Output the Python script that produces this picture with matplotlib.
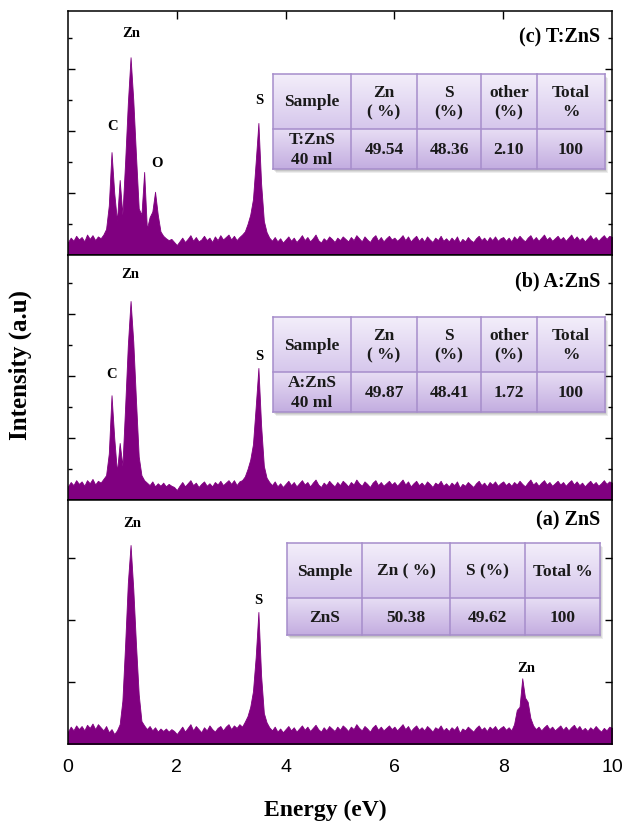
import numpy as np
import matplotlib
matplotlib.use('Agg')
import matplotlib.pyplot as plt
from matplotlib.patches import Rectangle

# ---------------- data ----------------
energy = np.round(np.arange(0, 10.0001, 0.05), 2)   # eV grid, 0.05 step

int_a = [  # (a) ZnS
    0.20, 0.28, 0.22, 0.30, 0.24, 0.29, 0.22, 0.31, 0.26, 0.33, 0.24, 0.32, 0.27, 0.22, 0.29, 0.19, 0.24, 0.16, 0.22, 0.32,
    0.70, 1.60, 2.60, 3.21, 2.50, 1.60, 0.80, 0.37, 0.30, 0.24, 0.29, 0.22, 0.27, 0.20, 0.25, 0.21, 0.25, 0.20, 0.24, 0.21,
    0.16, 0.22, 0.28, 0.20, 0.26, 0.32, 0.22, 0.29, 0.24, 0.19, 0.27, 0.22, 0.30, 0.24, 0.20, 0.26, 0.29, 0.22, 0.28, 0.32,
    0.24, 0.30, 0.26, 0.32, 0.28, 0.36, 0.45, 0.60, 0.85, 1.40, 2.13, 1.10, 0.50, 0.35, 0.27, 0.22, 0.28, 0.20, 0.25, 0.19,
    0.24, 0.29, 0.22, 0.27, 0.20, 0.25, 0.30, 0.23, 0.28, 0.21, 0.26, 0.31, 0.24, 0.20, 0.27, 0.22, 0.29, 0.25, 0.21, 0.28,
    0.23, 0.30, 0.26, 0.21, 0.28, 0.24, 0.32, 0.26, 0.22, 0.29, 0.25, 0.20, 0.27, 0.31, 0.23, 0.28, 0.22, 0.26, 0.30, 0.24,
    0.28, 0.22, 0.27, 0.32, 0.24, 0.29, 0.21, 0.26, 0.30, 0.23, 0.27, 0.22, 0.29, 0.25, 0.20, 0.27, 0.24, 0.30, 0.22, 0.26,
    0.21, 0.27, 0.23, 0.29, 0.18, 0.25, 0.22, 0.28, 0.24, 0.20, 0.26, 0.30, 0.23, 0.27, 0.21, 0.28, 0.24, 0.29, 0.22, 0.26,
    0.29, 0.23, 0.27, 0.22, 0.32, 0.55, 0.60, 1.06, 0.75, 0.68, 0.42, 0.30, 0.24, 0.28, 0.22, 0.27, 0.31, 0.24, 0.28, 0.22,
    0.26, 0.30, 0.23, 0.28, 0.22, 0.27, 0.31, 0.24, 0.29, 0.22, 0.26, 0.21, 0.27, 0.23, 0.29, 0.24, 0.20, 0.26, 0.22, 0.28,
    0.26,
]

int_b = [  # (b) A:ZnS
    0.22, 0.29, 0.24, 0.32, 0.26, 0.30, 0.23, 0.32, 0.27, 0.34, 0.25, 0.31, 0.28, 0.34, 0.40, 0.75, 1.69, 1.00, 0.45, 0.92,
    0.55, 1.50, 2.50, 3.21, 2.55, 1.60, 0.70, 0.40, 0.32, 0.28, 0.24, 0.30, 0.22, 0.27, 0.23, 0.28, 0.22, 0.26, 0.23, 0.21,
    0.16, 0.23, 0.29, 0.22, 0.27, 0.32, 0.24, 0.28, 0.21, 0.26, 0.30, 0.23, 0.27, 0.22, 0.29, 0.25, 0.31, 0.24, 0.28, 0.32,
    0.26, 0.32, 0.24, 0.30, 0.32, 0.38, 0.50, 0.65, 0.90, 1.50, 2.13, 1.20, 0.55, 0.36, 0.29, 0.24, 0.30, 0.22, 0.27, 0.21,
    0.26, 0.31, 0.24, 0.29, 0.22, 0.27, 0.32, 0.25, 0.29, 0.22, 0.28, 0.33, 0.25, 0.21, 0.28, 0.24, 0.31, 0.26, 0.22, 0.29,
    0.24, 0.31, 0.27, 0.22, 0.29, 0.25, 0.33, 0.27, 0.23, 0.30, 0.26, 0.21, 0.28, 0.32, 0.24, 0.29, 0.23, 0.27, 0.31, 0.25,
    0.29, 0.23, 0.28, 0.33, 0.25, 0.30, 0.22, 0.27, 0.31, 0.24, 0.28, 0.23, 0.30, 0.26, 0.21, 0.28, 0.25, 0.31, 0.23, 0.27,
    0.22, 0.28, 0.24, 0.30, 0.20, 0.26, 0.23, 0.29, 0.25, 0.21, 0.27, 0.31, 0.24, 0.28, 0.22, 0.29, 0.25, 0.30, 0.23, 0.27,
    0.30, 0.24, 0.28, 0.23, 0.29, 0.25, 0.31, 0.26, 0.22, 0.28, 0.33, 0.25, 0.29, 0.23, 0.28, 0.32, 0.25, 0.29, 0.23, 0.27,
    0.31, 0.25, 0.29, 0.23, 0.28, 0.32, 0.25, 0.30, 0.24, 0.28, 0.22, 0.27, 0.31, 0.25, 0.29, 0.23, 0.27, 0.32, 0.26, 0.30,
    0.28,
]

int_c = [  # (c) T:ZnS
    0.21, 0.28, 0.23, 0.31, 0.25, 0.29, 0.22, 0.33, 0.26, 0.32, 0.24, 0.30, 0.27, 0.33, 0.42, 0.80, 1.66, 1.00, 0.55, 1.21,
    0.65, 1.50, 2.45, 3.19, 2.50, 1.60, 0.75, 0.65, 1.34, 0.42, 0.61, 0.70, 1.02, 0.65, 0.38, 0.31, 0.27, 0.24, 0.26, 0.21,
    0.16, 0.22, 0.28, 0.21, 0.26, 0.32, 0.23, 0.29, 0.22, 0.25, 0.31, 0.24, 0.28, 0.21, 0.30, 0.24, 0.32, 0.25, 0.29, 0.33,
    0.25, 0.31, 0.24, 0.29, 0.33, 0.38, 0.50, 0.65, 0.90, 1.50, 2.13, 1.15, 0.55, 0.37, 0.28, 0.23, 0.29, 0.22, 0.27, 0.20,
    0.25, 0.30, 0.23, 0.28, 0.21, 0.26, 0.32, 0.24, 0.29, 0.22, 0.27, 0.33, 0.24, 0.20, 0.27, 0.23, 0.30, 0.26, 0.21, 0.28,
    0.24, 0.30, 0.26, 0.22, 0.29, 0.24, 0.32, 0.27, 0.22, 0.30, 0.25, 0.21, 0.28, 0.32, 0.23, 0.29, 0.22, 0.27, 0.31, 0.25,
    0.28, 0.23, 0.27, 0.32, 0.24, 0.30, 0.22, 0.27, 0.31, 0.23, 0.28, 0.22, 0.30, 0.25, 0.21, 0.28, 0.24, 0.31, 0.23, 0.27,
    0.22, 0.28, 0.23, 0.30, 0.20, 0.26, 0.22, 0.29, 0.24, 0.21, 0.27, 0.31, 0.24, 0.28, 0.22, 0.29, 0.24, 0.30, 0.23, 0.27,
    0.29, 0.23, 0.28, 0.22, 0.30, 0.25, 0.31, 0.26, 0.22, 0.28, 0.32, 0.24, 0.29, 0.23, 0.28, 0.33, 0.25, 0.29, 0.23, 0.27,
    0.31, 0.25, 0.29, 0.23, 0.28, 0.33, 0.25, 0.30, 0.24, 0.28, 0.22, 0.27, 0.32, 0.25, 0.29, 0.23, 0.28, 0.32, 0.26, 0.31,
    0.29,
]

panel_titles = ["(c) T:ZnS", "(b) A:ZnS", "(a) ZnS"]

# peak labels: (text, energy, height)
labels_c = [("Zn", 1.17, 3.58), ("C", 0.82, 2.07), ("O", 1.63, 1.47), ("S", 3.52, 2.50)]
labels_b = [("Zn", 1.15, 3.63), ("C", 0.80, 2.03), ("S", 3.52, 2.32)]
labels_a = [("Zn", 1.18, 3.55), ("S", 3.50, 2.32), ("Zn", 8.42, 1.21)]

table_c = [["Sample", "Zn\n( %)", "S\n(%)", "other\n(%)", "Total\n%"],
           ["T:ZnS\n40 ml", "49.54", "48.36", "2.10", "100"]]
table_b = [["Sample", "Zn\n( %)", "S\n(%)", "other\n(%)", "Total\n%"],
           ["A:ZnS\n40 ml", "49.87", "48.41", "1.72", "100"]]
table_a = [["Sample", "Zn ( %)", "S (%)", "Total %"],
           ["ZnS", "50.38", "49.62", "100"]]

x_ticks = [0, 2, 4, 6, 8, 10]

# ---------------- figure ----------------
W, H = 624, 823
fig = plt.figure(figsize=(W / 100, H / 100), dpi=100)
SERIF = ['Liberation Serif', 'DejaVu Serif']
SANS = ['Liberation Sans', 'DejaVu Sans']
PURPLE = '#800080'
UNIT = 62.0  # px per y unit


def rect(x0, y0, x1, y1):
    return [x0 / W, 1 - y1 / H, (x1 - x0) / W, (y1 - y0) / H]


def make_panel(box, values, title, title_y, labels, minor, top_ticks, bottom_labels):
    ax = fig.add_axes(rect(*box))
    ax.fill_between(energy, 0, values, color=PURPLE, lw=0.6, edgecolor=PURPLE)
    ax.set_xlim(0, 10)
    ax.set_ylim(0, (box[3] - box[1]) / UNIT)
    ax.set_yticks([1, 2, 3])
    if minor:
        ax.set_yticks([0.5, 1.5, 2.5, 3.5], minor=True)
    ax.tick_params(axis='y', which='major', direction='in', left=True, right=True,
                   length=5, width=1, labelleft=False)
    ax.tick_params(axis='y', which='minor', direction='in', left=True, right=True,
                   length=3, width=1)
    ax.set_xticks([2, 4, 6, 8] if top_ticks else x_ticks)
    ax.tick_params(axis='x', direction='in', top=top_ticks, bottom=False,
                   length=6, width=1, labelbottom=bottom_labels, pad=11,
                   labelsize=14)
    for lab in ax.get_xticklabels():
        lab.set_family(SANS)
    for s in ax.spines.values():
        s.set_linewidth(1.1)
    ax.text(0.978, title_y, title, transform=ax.transAxes, ha='right', va='center',
            fontsize=14.5, fontweight='bold', family=SERIF)
    for t, x, y in labels:
        ax.text(x, y, t, ha='center', va='center', fontsize=10.5,
                fontweight='bold', family=SERIF)
    return ax


ax_c = make_panel((68, 11, 612, 255), int_c, panel_titles[0], 0.893, labels_c, True, True, False)
ax_b = make_panel((68, 255, 612, 500), int_b, panel_titles[1], 0.89, labels_b, True, False, False)
ax_a = make_panel((68, 500, 612, 744), int_a, panel_titles[2], 0.918, labels_a, False, False, True)


def gradient(c_top, c_bot, n=64):
    t = np.linspace(0, 1, n)[:, None]
    a = np.array(matplotlib.colors.to_rgb(c_top))
    b = np.array(matplotlib.colors.to_rgb(c_bot))
    return (a * (1 - t) + b * t)[:, None, :]


def draw_table(cols, rows, cells):
    x0, x1 = cols[0], cols[-1]
    y0, y1 = rows[0], rows[-1]
    tax = fig.add_axes(rect(x0, y0, x1, y1), zorder=5)
    tax.set_xlim(x0, x1)
    tax.set_ylim(y1, y0)
    tax.axis('off')
    # shadow
    for k, a in [(4, 0.10), (3, 0.12), (2, 0.15)]:
        tax.add_patch(Rectangle((x0 + k - 1, y0 + k), x1 - x0, y1 - y0, color='#555555',
                                alpha=a, clip_on=False, zorder=0, lw=0))
    grads = [gradient('#F3EEFA', '#D6C7EC'), gradient('#E7DDF4', '#C3ADE0')]
    for r in range(2):
        tax.imshow(grads[r], extent=(x0, x1, rows[r + 1], rows[r]), aspect='auto',
                   zorder=1, origin='upper')
    for cx in cols:
        tax.plot([cx, cx], [y0, y1], color='#A68DCB', lw=1.1, zorder=2, clip_on=False)
    for ry in rows:
        tax.plot([x0, x1], [ry, ry], color='#A68DCB', lw=1.1, zorder=2, clip_on=False)
    tax.set_xlim(x0, x1)
    tax.set_ylim(y1, y0)
    for r in range(2):
        for c in range(len(cols) - 1):
            tax.text((cols[c] + cols[c + 1]) / 2, (rows[r] + rows[r + 1]) / 2 + 1,
                     cells[r][c], ha='center', va='center', fontsize=12.5,
                     fontweight='bold', family=SERIF, color='#1a1a1a',
                     linespacing=1.3, zorder=3)


draw_table([273, 351, 417, 481, 537, 605], [74, 129, 169], table_c)
draw_table([273, 351, 417, 481, 537, 605], [317, 372, 412], table_b)
draw_table([287, 362, 450, 525, 600], [543, 598, 635], table_a)

fig.text(325 / W, 1 - 810 / H, "Energy (eV)", ha='center', va='center',
         fontsize=17, fontweight='bold', family=SERIF)
fig.text(20 / W, 1 - 365 / H, "Intensity (a.u)", ha='center', va='center',
         rotation=90, fontsize=18, fontweight='bold', family=SERIF)

fig.savefig('out.png', dpi=100)
